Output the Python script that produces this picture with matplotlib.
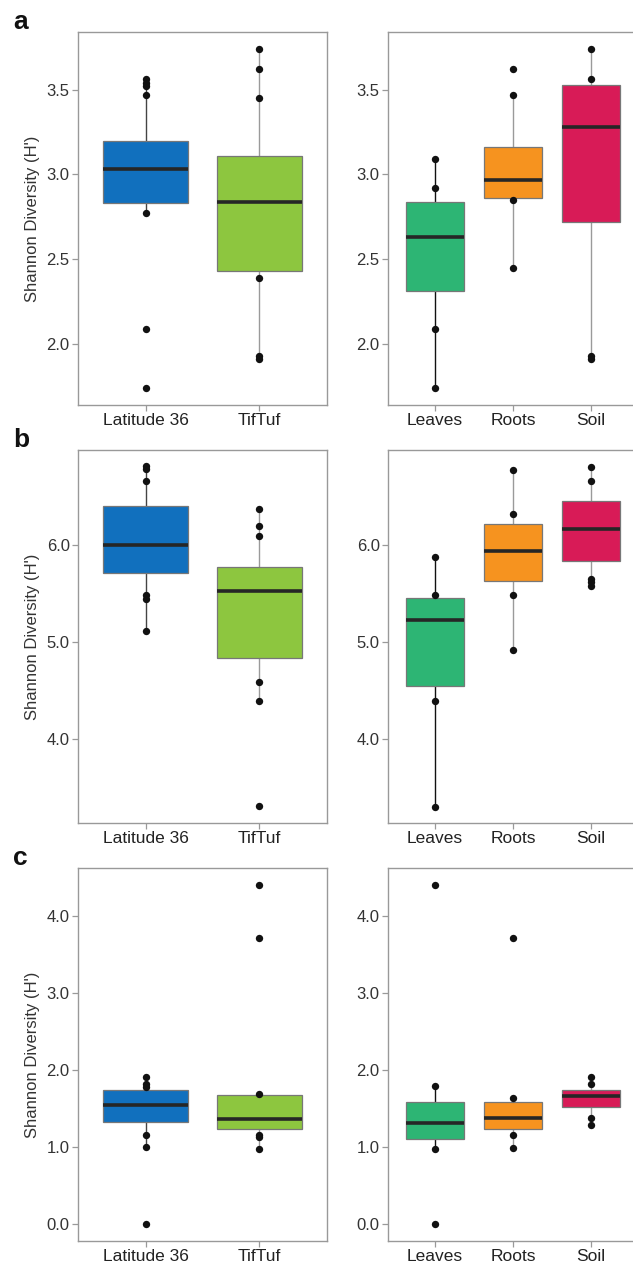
import matplotlib
matplotlib.use("Agg")
import matplotlib.pyplot as plt

plt.rcParams['font.family'] = ['Liberation Sans', 'DejaVu Sans']

# categories
cultivars = ["Latitude 36", "TifTuf"]
tissues = ["Leaves", "Roots", "Soil"]

# box stats: (whisker low, q1, median, q3, whisker high)
a_cult_box = [(2.77, 2.83, 3.03, 3.20, 3.56), (1.91, 2.43, 2.84, 3.11, 3.74)]
a_tiss_box = [(1.74, 2.31, 2.63, 2.84, 3.09), (2.45, 2.86, 2.97, 3.16, 3.47), (1.91, 2.72, 3.28, 3.53, 3.74)]
b_cult_box = [(5.12, 5.71, 6.00, 6.40, 6.82), (4.40, 4.84, 5.53, 5.78, 6.37)]
b_tiss_box = [(3.30, 4.55, 5.23, 5.46, 5.88), (4.92, 5.63, 5.94, 6.22, 6.77), (5.58, 5.84, 6.17, 6.45, 6.81)]
c_cult_box = [(1.00, 1.33, 1.54, 1.74, 1.91), (0.97, 1.23, 1.36, 1.67, 1.69)]
c_tiss_box = [(0.97, 1.10, 1.31, 1.58, 1.79), (0.99, 1.23, 1.37, 1.58, 1.64), (1.28, 1.52, 1.66, 1.74, 1.91)]

# sample points visible outside the boxes
a_cult_pts = [[3.56, 3.54, 3.52, 3.47, 2.77, 2.09, 1.74], [3.74, 3.62, 3.45, 2.39, 1.93, 1.91]]
a_tiss_pts = [[3.09, 2.92, 2.09, 1.74], [3.62, 3.47, 2.85, 2.45], [3.74, 3.56, 1.93, 1.91]]
b_cult_pts = [[6.82, 6.78, 6.66, 5.49, 5.45, 5.12], [6.37, 6.20, 6.09, 4.59, 4.40, 3.31]]
b_tiss_pts = [[5.88, 5.49, 4.40, 3.30], [6.77, 6.32, 5.49, 4.92], [6.81, 6.66, 5.65, 5.62, 5.58]]
c_cult_pts = [[1.91, 1.82, 1.78, 1.15, 1.00, 0.0], [4.40, 3.71, 1.69, 1.16, 1.13, 0.97]]
c_tiss_pts = [[4.40, 1.79, 0.97, 0.0], [3.71, 1.64, 1.16, 0.99], [1.91, 1.82, 1.37, 1.28]]

cult_colors = ["#1170BE", "#8DC63F"]
tiss_colors = ["#2DB574", "#F6931F", "#D81B57"]
cult_whisk = ["#444444", "#9a9a9a"]
tiss_whisk = ["#111111", "#9a9a9a", "#9a9a9a"]

W, H = 633, 1265


def rect(x0, y0, x1, y1):
    return [x0 / W, 1 - y1 / H, (x1 - x0) / W, (y1 - y0) / H]


def draw(ax, labels, boxes, pts, colors, wcolors, ylim, yticks, ylabel):
    stats = []
    for lab, (lo, q1, med, q3, hi) in zip(labels, boxes):
        stats.append({"label": lab, "whislo": lo, "q1": q1, "med": med,
                      "q3": q3, "whishi": hi, "fliers": []})
    pos = list(range(1, len(labels) + 1))
    bp = ax.bxp(stats, positions=pos, widths=0.75, patch_artist=True,
                showcaps=False, showfliers=False,
                boxprops=dict(edgecolor="#777777", linewidth=0.9),
                medianprops=dict(color="#262626", linewidth=2.6),
                whiskerprops=dict(linewidth=1.0))
    for patch, c in zip(bp["boxes"], colors):
        patch.set_facecolor(c)
        patch.set_zorder(2)
    for i, wc in enumerate(wcolors):
        for w in bp["whiskers"][2 * i:2 * i + 2]:
            w.set_color(wc)
            w.set_zorder(1)
    for m in bp["medians"]:
        m.set_zorder(2.5)
    for p, vals in zip(pos, pts):
        ax.scatter([p] * len(vals), vals, s=28, color="#111111", zorder=3, linewidths=0)
    ax.set_xlim(0.4, len(labels) + 0.6)
    ax.set_ylim(*ylim)
    ax.set_yticks(yticks)
    ax.set_yticklabels(["%.1f" % t for t in yticks])
    ax.set_xticks(pos)
    ax.set_xticklabels(labels)
    for s in ax.spines.values():
        s.set_color("#999999")
        s.set_linewidth(1.0)
    ax.tick_params(axis="both", colors="#999999", length=4, width=0.9)
    ax.tick_params(axis="y", labelsize=12, labelcolor="#333333", pad=2)
    ax.tick_params(axis="x", labelsize=12.5, labelcolor="#222222", pad=2)
    if ylabel:
        ax.set_ylabel(ylabel, fontsize=12, color="#333333", labelpad=5)


fig = plt.figure(figsize=(W / 100, H / 100), dpi=100)

panels = [
    ("a", 32, 405, a_cult_box, a_cult_pts, a_tiss_box, a_tiss_pts, (1.64, 3.84), [2.0, 2.5, 3.0, 3.5]),
    ("b", 450, 823, b_cult_box, b_cult_pts, b_tiss_box, b_tiss_pts, (3.14, 6.98), [4.0, 5.0, 6.0]),
    ("c", 868, 1241, c_cult_box, c_cult_pts, c_tiss_box, c_tiss_pts, (-0.22, 4.62), [0.0, 1.0, 2.0, 3.0, 4.0]),
]

for letter, y0, y1, cbox, cpts, tbox, tpts, ylim, yt in panels:
    ax1 = fig.add_axes(rect(78, y0, 327, y1))
    draw(ax1, cultivars, cbox, cpts, cult_colors, cult_whisk, ylim, yt, "Shannon Diversity (H')")
    ax2 = fig.add_axes(rect(388, y0, 638, y1))
    draw(ax2, tissues, tbox, tpts, tiss_colors, tiss_whisk, ylim, yt, None)
    fig.text(13 / W, 1 - (y0 - 10) / H, letter, fontsize=19, fontweight="bold",
             ha="left", va="center", color="#111111")

fig.savefig("out.png", dpi=100)
